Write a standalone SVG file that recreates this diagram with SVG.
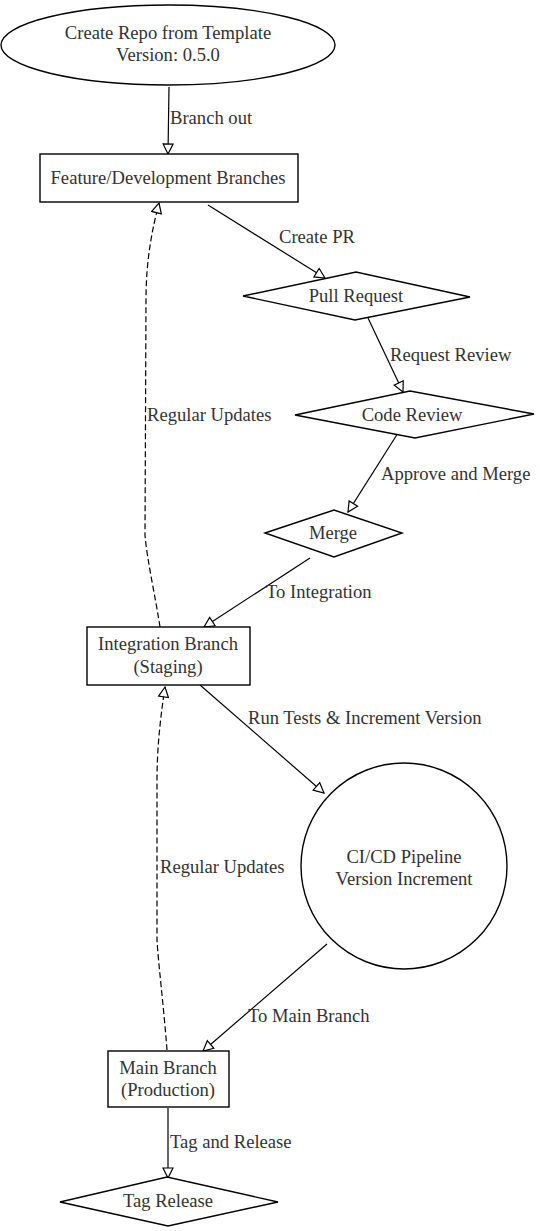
<svg xmlns="http://www.w3.org/2000/svg" width="540" height="1231" viewBox="0 0 540 1231">
<style>
.n{fill:#fff;stroke:#000;stroke-width:1.4}
.t{font-family:"Liberation Serif",serif;font-size:18.6px;fill:#333;text-anchor:middle}
.l{font-family:"Liberation Serif",serif;font-size:18.6px;fill:#333}
.e{fill:none;stroke:#000;stroke-width:1.2}
.d{fill:none;stroke:#000;stroke-width:1.2;stroke-dasharray:6 3}
</style>
<defs>
<marker id="a" viewBox="0 0 12 12" refX="11" refY="6" markerWidth="12" markerHeight="12" markerUnits="userSpaceOnUse" orient="auto">
<path d="M1,1 L11,6 L1,11 Z" fill="#fff" stroke="#000" stroke-width="1.2"/>
</marker>
</defs>
<rect width="540" height="1231" fill="#fff"/>
<g id="edges">
<path class="e" d="M169,87 L168,154" marker-end="url(#a)"/>
<path class="e" d="M208,205 L325,278" marker-end="url(#a)"/>
<path class="e" d="M368,318 L403,392" marker-end="url(#a)"/>
<path class="e" d="M398,433 L348,512" marker-end="url(#a)"/>
<path class="e" d="M310,558 L204,627" marker-end="url(#a)"/>
<path class="e" d="M200,685 L324,793" marker-end="url(#a)"/>
<path class="e" d="M327,944 L203,1051" marker-end="url(#a)"/>
<path class="e" d="M168,1108 L168,1178" marker-end="url(#a)"/>
<path class="d" d="M160,627 C156,600 147,560 145,535 L146,300 C146,260 152,230 159,203" marker-end="url(#a)"/>
<path class="d" d="M167,1050 C164,1010 158,960 157,940 L157,780 C157,750 160,720 165,687" marker-end="url(#a)"/>
<text class="l" x="170" y="124">Branch out</text>
<text class="l" x="279" y="243">Create PR</text>
<text class="l" x="390" y="361">Request Review</text>
<text class="l" x="381" y="480">Approve and Merge</text>
<text class="l" x="266" y="598">To Integration</text>
<text class="l" x="248" y="724">Run Tests &amp; Increment Version</text>
<text class="l" x="248" y="1022">To Main Branch</text>
<text class="l" x="170" y="1148">Tag and Release</text>
<text class="l" x="147" y="421">Regular Updates</text>
<text class="l" x="160" y="873">Regular Updates</text>
</g>
<g id="start">
<ellipse class="n" cx="168" cy="45" rx="167" ry="40"/>
<text class="t" x="168" y="39">Create Repo from Template</text>
<text class="t" x="168" y="61">Version: 0.5.0</text>
</g>
<g id="feature">
<rect class="n" x="40" y="154" width="258" height="48"/>
<text class="t" x="168" y="184">Feature/Development Branches</text>
</g>
<g id="pr">
<path class="n" d="M243,296 L356,272 L470,297 L355,320 Z"/>
<text class="t" x="356" y="302">Pull Request</text>
</g>
<g id="review">
<path class="n" d="M295,415 L410,391 L534,414 L415,438 Z"/>
<text class="t" x="412" y="421">Code Review</text>
</g>
<g id="merge">
<path class="n" d="M265,533 L334,510 L402,533 L334,557 Z"/>
<text class="t" x="333" y="539">Merge</text>
</g>
<g id="integration">
<rect class="n" x="87" y="627" width="163" height="58"/>
<text class="t" x="168" y="650">Integration Branch</text>
<text class="t" x="168" y="673">(Staging)</text>
</g>
<g id="cicd">
<circle class="n" cx="404" cy="866" r="103"/>
<text class="t" x="404" y="863">CI/CD Pipeline</text>
<text class="t" x="404" y="885">Version Increment</text>
</g>
<g id="main">
<rect class="n" x="108" y="1051" width="121" height="56"/>
<text class="t" x="168" y="1074">Main Branch</text>
<text class="t" x="168" y="1096">(Production)</text>
</g>
<g id="tag">
<path class="n" d="M60,1202 L167,1177 L278,1202 L168,1226 Z"/>
<text class="t" x="168" y="1207">Tag Release</text>
</g>
</svg>
